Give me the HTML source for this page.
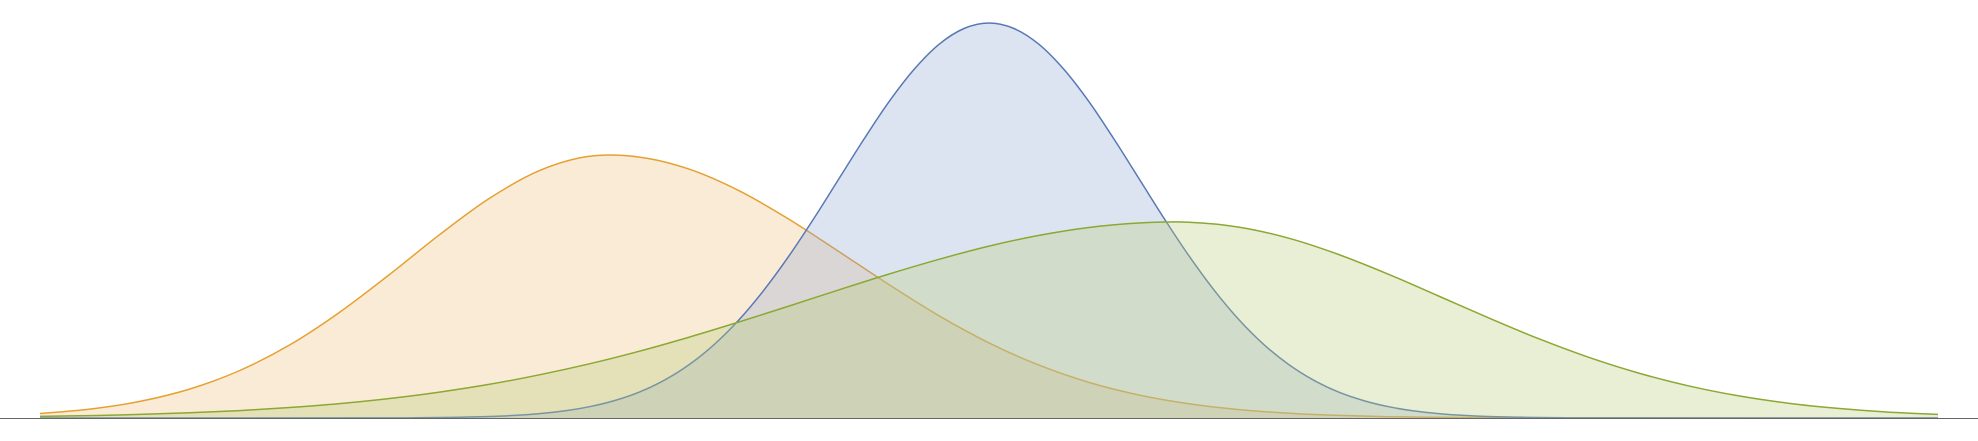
<!DOCTYPE html>
<html>
<head>
<meta charset="utf-8">
<style>
  html, body { margin: 0; padding: 0; background: #ffffff; }
  body { width: 1978px; height: 441px; overflow: hidden; font-family: "Liberation Sans", sans-serif; }
  svg { display: block; }
</style>
</head>
<body>
<svg id="chart" width="1978" height="441" viewBox="0 0 1978 441" xmlns="http://www.w3.org/2000/svg">
  <g id="areas"></g>
  <line x1="0" y1="418.5" x2="1978" y2="418.5" stroke="#666" stroke-width="1"/>
</svg>
<script>
// Sample positions (data units) and density heights for each series
const xSamples = [0,1,2,3,4,5,6,7,8,9,10,11,12,13,14,15,16,17,18,19,20,21,22,23,24,25,26,27,28,29,30,31,32,33,34,35,36,37,38];
const orangeValues = [4.5,8.9,16.6,29.0,47.5,73.1,105.8,143.6,183.3,219.7,247.4,261.7,260.9,248.8,227.2,198.6,166.2,133.3,102.2,75.1,52.9,35.6,23,14.2,8.4,4.8,2.6,1.3,0.7,0.3,0,0,0,0,0,0,0,0,0];
const blueX = [0,7,7.5,8,8.5,9,9.5,10,10.5,11,11.5,12,12.5,13,13.5,14,14.5,15,15.5,16,16.5,17,17.5,18,18.5,19,19.5,20,20.5,21,21.5,22,22.5,23,23.5,24,24.5,25,25.5,26,26.5,27,27.5,28,28.5,29,29.5,30,30.5,31,38];
const blueValues = [0,0.1,0.25,0.5,0.9,1.5,2.6,4.4,7.1,11.3,17.4,25.9,37.8,53.5,73.6,98.5,128.3,162.4,200,239.6,279.1,316.4,348.6,373.7,389.5,395,389.5,373.7,348.6,316.4,279.1,239.6,200,162.4,128.3,98.5,73.6,53.5,37.8,25.9,17.4,11.3,7.1,4.4,2.6,1.5,0.9,0.5,0.25,0.1,0];
const greenValues = [1.6,2.4,3.6,5.2,7.4,10.5,14.4,19.5,25.9,33.7,43.2,54.2,66.8,80.9,96.1,112,128.2,144,158.7,171.9,182.6,190.5,195,195.8,190.9,179.8,163.5,143.7,122,100.2,79.4,60.8,45,32.2,22.2,14.8,9.6,5.9,3.6];

const xMin = 0, xMax = 38;
const plotLeft = 40, plotRight = 1938, baseY = 418;
function xScale(v) { return plotLeft + (v - xMin) / (xMax - xMin) * (plotRight - plotLeft); }
function yScale(v) { return baseY - v; }

function smoothPath(pts) {
  let d = 'M' + pts[0][0].toFixed(2) + ',' + pts[0][1].toFixed(2);
  for (let i = 0; i < pts.length - 1; i++) {
    const p0 = pts[Math.max(0, i - 1)], p1 = pts[i], p2 = pts[i + 1], p3 = pts[Math.min(pts.length - 1, i + 2)];
    const c1x = p1[0] + (p2[0] - p0[0]) / 6, c1y = p1[1] + (p2[1] - p0[1]) / 6;
    const c2x = p2[0] - (p3[0] - p1[0]) / 6, c2y = p2[1] - (p3[1] - p1[1]) / 6;
    d += 'C' + c1x.toFixed(2) + ',' + c1y.toFixed(2) + ' ' + c2x.toFixed(2) + ',' + c2y.toFixed(2) + ' ' + p2[0].toFixed(2) + ',' + p2[1].toFixed(2);
  }
  return d;
}

const NS = 'http://www.w3.org/2000/svg';
const g = document.getElementById('areas');
function drawSeries(xs, values, name, fill, fillOpacity, stroke) {
  const pts = xs.map((x, i) => [xScale(x), yScale(values[i])]);
  const line = smoothPath(pts);
  const area = document.createElementNS(NS, 'path');
  area.setAttribute('d', line + 'L' + xScale(xs[xs.length - 1]) + ',' + baseY + 'L' + xScale(xs[0]) + ',' + baseY + 'Z');
  area.setAttribute('fill', fill);
  area.setAttribute('fill-opacity', fillOpacity);
  
  
  g.appendChild(area);
  const ln = document.createElementNS(NS, 'path');
  ln.setAttribute('d', line);
  ln.setAttribute('fill', 'none');
  ln.setAttribute('stroke', stroke);
  ln.setAttribute('stroke-width', '1.5');
  
  
  g.appendChild(ln);
}
drawSeries(xSamples, orangeValues, 'orange-density', '#f0c890', 0.36, '#e6a030');
drawSeries(blueX, blueValues, 'blue-density', '#8fa5d0', 0.3, '#5878b4');
drawSeries(xSamples, greenValues, 'green-density', '#b8cf7c', 0.33, '#8aa832');
</script>
</body>
</html>
